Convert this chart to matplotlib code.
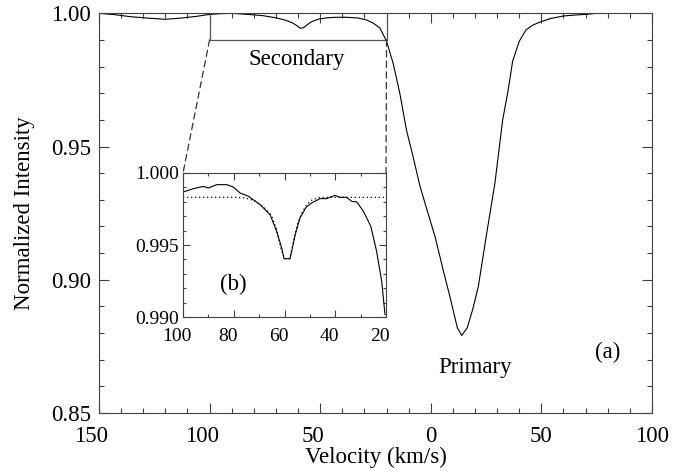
import matplotlib
matplotlib.use("Agg")
import matplotlib.pyplot as plt
from matplotlib.patches import ConnectionPatch
from matplotlib.transforms import ScaledTranslation

# ---------------- data ----------------
main_v = [-150, -143, -136, -128, -120, -113, -106, -100, -95, -90, -83, -76, -70,
          -66, -63, -61, -59, -57.5, -56, -54, -51, -47, -43, -38, -33, -29, -26,
          -23, -20, -17, -14, -11, -8, -5, -2, 2, 5.5, 9, 12, 14, 16.5, 19, 21.5,
          25, 29, 32.5, 35, 37, 40, 43, 46, 49, 54, 60, 66, 71, 75, 80, 90, 100]
main_I = [1.0000, 0.9995, 0.99875, 0.9982, 0.99775, 0.9982, 0.99885, 0.9996,
          0.99985, 1.0000, 0.9996, 0.99913, 0.9983, 0.9975, 0.9966, 0.99563,
          0.9944, 0.9946, 0.9956, 0.9968, 0.99775, 0.9983, 0.9985, 0.9985,
          0.99825, 0.9975, 0.9963, 0.9945, 0.9895, 0.9812, 0.9700, 0.9562,
          0.9462, 0.9355, 0.9270, 0.9160, 0.9040, 0.8925, 0.8820, 0.8791,
          0.8820, 0.8890, 0.8975, 0.9160, 0.9363, 0.9600, 0.9712, 0.9820,
          0.9895, 0.99375, 0.9955, 0.9966, 0.9980, 0.9990, 0.9994, 0.99965,
          1.0000, 1.0003, 1.0005, 1.0005]

inset_v = [-100, -95.9, -92, -90, -86.7, -82.8, -80.2, -77.5, -74.2, -69.6, -65.7,
           -63.1, -61.1, -60.2, -57.8, -55.8, -53.9, -51.5, -49.3, -46, -43.4,
           -40.1, -38.1, -35.5, -33.5, -31.5, -28.9, -26, -23.7, -21.7, -20.4]
inset_I = [0.99868, 0.99891, 0.99907, 0.99896, 0.99919, 0.99919, 0.99903,
           0.99861, 0.99838, 0.99780, 0.99711, 0.99595, 0.99479, 0.99405,
           0.99405, 0.99572, 0.99688, 0.99762, 0.99792, 0.99822, 0.99822,
           0.99845, 0.99831, 0.99831, 0.99803, 0.99799, 0.99734, 0.99630,
           0.99456, 0.99248, 0.99016]

fit_v = [-100, -90, -80, -76, -72, -68, -65, -63, -61.5, -60, -58, -56.5, -55,
         -53, -51, -49, -46, -40, -30, -20]
fit_I = [0.99831, 0.99831, 0.99831, 0.99828, 0.99810, 0.99760, 0.99700, 0.99600,
         0.99480, 0.99405, 0.99405, 0.99520, 0.99640, 0.99730, 0.99785, 0.99815,
         0.99830, 0.99831, 0.99831, 0.99831]

main_xticks = [-150, -100, -50, 0, 50, 100]
main_xticklabels = ["150", "100", "50", "0", "50", "100"]
main_yticks = [0.85, 0.90, 0.95, 1.00]
main_yticklabels = ["0.85", "0.90", "0.95", "1.00"]

inset_xticks = [-100, -80, -60, -40, -20]
inset_xticklabels = ["100", "80", "60", "40", "20"]
inset_yticks = [0.990, 0.995, 1.000]
inset_yticklabels = ["0.990", "0.995", "1.000"]

zoom_lo, zoom_hi = -100, -20
zoom_ybot, zoom_ytop = 0.990, 1.000

# ---------------- figure ----------------
plt.rcParams['font.family'] = ['Liberation Serif', 'DejaVu Serif']

fig = plt.figure(figsize=(6.86, 4.75), dpi=100)
ax = fig.add_axes([0.1443, 0.1305, 0.8061, 0.8415])

spine_c = '#404040'
ax.plot(main_v, main_I, color='black', lw=0.8)
ax.set_xlim(-150, 100)
ax.set_ylim(0.85, 1.00)

ax.set_xticks(main_xticks, labels=main_xticklabels)
ax.set_xticks(list(range(-150, 101, 10)), minor=True)
ax.set_yticks(main_yticks, labels=main_yticklabels)
ax.set_yticks([0.85 + 0.01 * i for i in range(16)], minor=True)
ax.tick_params(which='both', direction='in', top=True, right=True,
               labelsize=16.5, color=spine_c, width=0.8)
ax.tick_params(which='major', length=7.5)
ax.tick_params(which='minor', length=3.6)
ax.tick_params(axis='x', which='major', pad=9)
ax.tick_params(axis='y', which='major', pad=6)
for s in ax.spines.values():
    s.set_color(spine_c)
    s.set_linewidth(0.8)

ax.set_xlabel("Velocity (km/s)", fontsize=16.5, labelpad=0)
ax.set_ylabel("Normalized Intensity", fontsize=16.5, labelpad=11)

# zoom box
ax.plot([zoom_lo, zoom_lo, zoom_hi, zoom_hi], [zoom_ytop, zoom_ybot, zoom_ybot, zoom_ytop],
        color='#555555', lw=0.9)

ax.text(-60.4, 0.9806, "Secondary", fontsize=16.5, ha='center', va='baseline')
ax.text(19.9, 0.8652, "Primary", fontsize=16.5, ha='center', va='baseline')
ax.text(80.1, 0.8706, "(a)", fontsize=16.5, ha='center', va='baseline')

# inset
axi = fig.add_axes([0.2668, 0.3326, 0.2959, 0.3032])
axi.plot(fit_v, fit_I, color='black', lw=0.9, ls=(0, (1, 2.2)))
axi.plot(inset_v, inset_I, color='black', lw=0.8)
axi.set_xlim(zoom_lo, zoom_hi)
axi.set_ylim(zoom_ybot, zoom_ytop)
axi.set_xticks(inset_xticks, labels=inset_xticklabels)
axi.set_xticks(list(range(-100, -19, 10)), minor=True)
axi.set_yticks(inset_yticks, labels=inset_yticklabels)
axi.set_yticks([0.990 + 0.001 * i for i in range(11)], minor=True)
axi.tick_params(which='both', direction='in', top=True, right=True,
                labelsize=14, color=spine_c, width=0.8)
axi.tick_params(which='major', length=5)
axi.tick_params(which='minor', length=2.5)
axi.tick_params(axis='x', which='major', pad=8)
axi.tick_params(axis='y', which='major', pad=3)
for s in axi.spines.values():
    s.set_color(spine_c)
    s.set_linewidth(0.8)
axi.text(-80.3, 0.99188, "(b)", fontsize=16.5, ha='center', va='baseline')

# dashed connectors
for (xm, xa) in [(zoom_lo, 0), (zoom_hi, 1)]:
    cp = ConnectionPatch(xyA=(xm, zoom_ybot), coordsA=ax.transData,
                         xyB=(xa, 1), coordsB=axi.transAxes,
                         color='#333333', lw=0.9, ls=(0, (5, 3.5)))
    fig.add_artist(cp)

# negative-value labels lost their minus sign: shift left as in the original
def shift_neg(axis_obj, px):
    off = ScaledTranslation(-px / 100.0, 0, fig.dpi_scale_trans)
    for t in axis_obj.get_major_ticks():
        if t.get_loc() < 0:
            t.label1.set_transform(t.label1.get_transform() + off)

shift_neg(ax.xaxis, 7.5)
shift_neg(axi.xaxis, 6)

fig.savefig("out.png", dpi=100)
